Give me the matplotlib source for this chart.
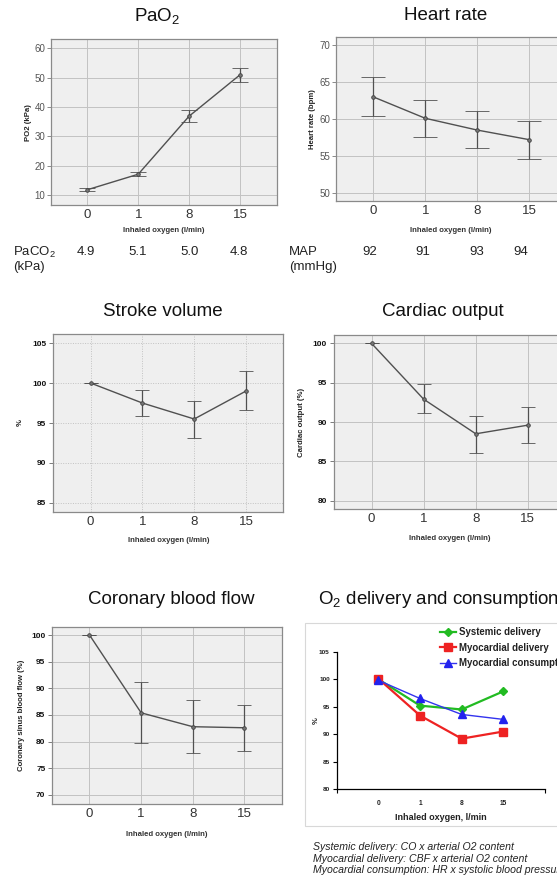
import matplotlib
matplotlib.use('Agg')
import matplotlib.pyplot as plt
from matplotlib.patches import Rectangle
import numpy as np

plt.rcParams['font.family'] = ['Liberation Sans', 'DejaVu Sans']
plt.rcParams['mathtext.fontset'] = 'custom'
plt.rcParams['mathtext.rm'] = 'Liberation Sans'
plt.rcParams['mathtext.it'] = 'Liberation Sans:italic'

W, H, DPI = 557, 877, 100

# ---------------- data ----------------
categories = ['0', '1', '8', '15']

pao2_mean = [11.8, 17.1, 36.9, 51.0]
pao2_hi = [12.3, 17.8, 38.9, 53.4]
pao2_lo = [11.3, 16.4, 35.0, 48.7]
paco2 = [4.9, 5.1, 5.0, 4.8]

hr_mean = [63.0, 60.1, 58.5, 57.2]
hr_hi = [65.7, 62.6, 61.1, 59.7]
hr_lo = [60.4, 57.6, 56.0, 54.6]
map_vals = [92, 91, 93, 94]

sv_mean = [100.0, 97.5, 95.5, 99.0]
sv_hi = [100.0, 99.1, 97.8, 101.5]
sv_lo = [100.0, 95.9, 93.1, 96.6]

co_mean = [100.0, 92.9, 88.5, 89.6]
co_hi = [100.0, 94.8, 90.8, 91.9]
co_lo = [100.0, 91.1, 86.1, 87.3]

cbf_mean = [100.0, 85.4, 82.8, 82.6]
cbf_hi = [100.0, 91.1, 87.8, 86.9]
cbf_lo = [100.0, 79.7, 77.8, 78.3]

sys_delivery = [100.0, 95.2, 94.5, 97.8]
myo_delivery = [100.1, 93.4, 89.2, 90.5]
myo_consumption = [99.8, 96.5, 93.6, 92.7]

footnotes = ['Systemic delivery: CO x arterial O2 content',
             'Myocardial delivery: CBF x arterial O2 content',
             'Myocardial consumption: HR x systolic blood pressure']

# ---------------- figure ----------------
fig = plt.figure(figsize=(W / DPI, H / DPI), dpi=DPI)
fig.patch.set_facecolor('white')


def px_axes(x0, y0, x1, y1):
    return fig.add_axes([x0 / W, 1 - y1 / H, (x1 - x0) / W, (y1 - y0) / H])


def ftext(x, y, s, **kw):
    fig.text(x / W, 1 - y / H, s, **kw)


def panel(box, mean, lo, hi, ylim, yticks, ylabel, capsize, ylab_x, xlab_y,
          grid_ls='-', bold_ticks=False):
    x0, y0, x1, y1 = box
    ax = px_axes(*box)
    ax.set_facecolor('#efefef')
    x = np.arange(len(categories))
    ax.set_xlim(-0.72, 3.72)
    ax.set_ylim(*ylim)
    ax.set_yticks(yticks)
    ax.set_xticks(x)
    ax.set_xticklabels(categories, fontsize=9.5, color='#333333')
    ax.tick_params(axis='x', length=0, pad=3)
    if bold_ticks:
        ax.tick_params(axis='y', length=3, width=0.6, color='#666666', pad=2,
                       labelsize=6, labelcolor='#111111')
        for t in ax.get_yticklabels():
            t.set_fontweight('bold')
    else:
        ax.tick_params(axis='y', length=3, width=0.6, color='#777777', pad=1,
                       labelsize=7, labelcolor='#555555')
    ax.grid(True, color='#c2c2c2', lw=0.7, ls=grid_ls)
    ax.set_axisbelow(True)
    for s in ax.spines.values():
        s.set_color('#8a8a8a')
        s.set_linewidth(0.9)
    m = np.array(mean)
    err = [m - np.array(lo), np.array(hi) - m]
    ax.errorbar(x, m, yerr=err, color='#505050', lw=1.0, capsize=capsize,
                capthick=0.9, elinewidth=0.9, marker='o', ms=2.6,
                mfc='#777777', mec='#404040', mew=0.6, zorder=3)
    ax.set_xlabel('Inhaled oxygen (l/min)', fontsize=5.6, fontweight='bold',
                  color='#333333', va='center')
    ax.xaxis.set_label_coords(((x0 + x1) / 2 - x0) / (x1 - x0),
                              -(xlab_y - y1) / (y1 - y0))
    ax.set_ylabel(ylabel, fontsize=5.6, fontweight='bold', color='#222222',
                  va='center')
    ax.yaxis.set_label_coords((ylab_x - x0) / (x1 - x0), 0.5)
    return ax


# PaO2
panel((50.7, 39.3, 276.7, 205.0), pao2_mean, pao2_lo, pao2_hi,
      (6.6, 63.1), [10, 20, 30, 40, 50, 60], 'PO2 (kPa)', 6, 28, 230)
ftext(157, 16, 'PaO$_\\mathrm{2}$', fontsize=13.5, ha='center', va='center', color='#111111')
ftext(13, 252, 'PaCO$_\\mathrm{2}$', fontsize=9.5, ha='left', va='center', color='#222222')
ftext(13, 267.5, '(kPa)', fontsize=9.5, ha='left', va='center', color='#222222')
for xp, v in zip([86, 138, 190, 239], paco2):
    ftext(xp, 252, f'{v:.1f}', fontsize=9.5, ha='center', va='center', color='#222222')

# Heart rate
panel((336.0, 37.3, 566.3, 200.7), hr_mean, hr_lo, hr_hi,
      (48.9, 71.1), [50, 55, 60, 65, 70], 'Heart rate (bpm)', 8.5, 313, 230)
ftext(445.7, 16, 'Heart rate', fontsize=13.5, ha='center', va='center', color='#111111')
ftext(289, 252, 'MAP', fontsize=9.5, ha='left', va='center', color='#222222')
ftext(289, 267.5, '(mmHg)', fontsize=9.5, ha='left', va='center', color='#222222')
for xp, v in zip([370, 423, 477, 521], map_vals):
    ftext(xp, 252, f'{v}', fontsize=9.5, ha='center', va='center', color='#222222')

# Stroke volume
panel((53.3, 334.3, 283.3, 511.7), sv_mean, sv_lo, sv_hi,
      (83.9, 106.1), [85, 90, 95, 100, 105], '%', 5, 20, 540,
      grid_ls=(0, (1, 1.5)), bold_ticks=True)
ftext(163, 312, 'Stroke volume', fontsize=13.5, ha='center', va='center', color='#111111')

# Cardiac output
panel((334.0, 335.0, 565.4, 509.0), co_mean, co_lo, co_hi,
      (78.94, 101.06), [80, 85, 90, 95, 100], 'Cardiac output (%)', 5.3, 301.7, 538.3,
      bold_ticks=True)
ftext(443, 312, 'Cardiac output', fontsize=13.5, ha='center', va='center', color='#111111')

# Coronary blood flow
panel((52.3, 626.7, 281.7, 804.0), cbf_mean, cbf_lo, cbf_hi,
      (68.3, 101.56), [70, 75, 80, 85, 90, 95, 100], 'Coronary sinus blood flow (%)',
      5, 21.7, 835, bold_ticks=True)
ftext(171.7, 600, 'Coronary blood flow', fontsize=13.5, ha='center', va='center', color='#111111')

# O2 delivery and consumption
fig.patches.append(Rectangle((305 / W, 1 - 826 / H), (600 - 305) / W, (826 - 623.3) / H,
                             transform=fig.transFigure, facecolor='white',
                             edgecolor='#d8d8d8', lw=0.8, zorder=-5))
ftext(318, 600, 'O$_\\mathrm{2}$ delivery and consumption', fontsize=13.5,
      ha='left', va='center', color='#111111')
ax6 = px_axes(336.7, 651.7, 545.0, 789.3)
ax6.set_zorder(2)
ax6.patch.set_alpha(0)
x = np.arange(len(categories))
ax6.set_xlim(-1, 4)
ax6.set_ylim(80, 105)
ax6.spines['top'].set_visible(False)
ax6.spines['right'].set_visible(False)
for s in ('left', 'bottom'):
    ax6.spines[s].set_color('black')
    ax6.spines[s].set_linewidth(0.9)
ax6.set_yticks([80, 85, 90, 95, 100, 105])
ax6.set_xticks(x)
ax6.set_xticklabels(categories)
ax6.set_xticks([-1, 4], minor=True)
ax6.tick_params(axis='x', which='major', length=0, pad=8, labelsize=4.8)
ax6.tick_params(axis='x', which='minor', length=3, width=0.8, direction='out')
ax6.tick_params(axis='y', length=3, width=0.8, pad=2, labelsize=4.6)
for t in ax6.get_xticklabels() + ax6.get_yticklabels():
    t.set_fontweight('bold')
    t.set_color('#222222')
l1, = ax6.plot(x, sys_delivery, color='#22bb22', lw=1.6, marker='D', ms=4.0,
               mec='#22bb22', label='Systemic delivery', zorder=3)
l2, = ax6.plot(x, myo_delivery, color='#ee2222', lw=1.6, marker='s', ms=5.8,
               mec='#ee2222', label='Myocardial delivery', zorder=3)
l3, = ax6.plot(x, myo_consumption, color='#3333ee', lw=1.0, marker='^', ms=5.6,
               mec='#2222ee', mfc='#2222ee', label='Myocardial consumption', zorder=4)
ax6.set_xlabel('Inhaled oxygen, l/min', fontsize=6.5, fontweight='bold',
               color='#222222', va='center')
ax6.xaxis.set_label_coords(0.5, -(817.3 - 789.3) / (789.3 - 651.7))
ax6.set_ylabel('%', fontsize=5.5, fontweight='bold', color='#222222', va='center')
ax6.yaxis.set_label_coords((316.7 - 336.7) / (545.0 - 336.7), 0.5)
leg = ax6.legend(handles=[l1, l2, l3], loc='upper left',
                 bbox_to_anchor=(440 / W, 1 - 627 / H), bbox_transform=fig.transFigure,
                 frameon=False, handlelength=1.7, handletextpad=0.3,
                 labelspacing=0.6, borderaxespad=0, borderpad=0,
                 prop={'size': 6.9, 'weight': 'bold'})
for t in leg.get_texts():
    t.set_color('#222222')

for i, line in enumerate(footnotes):
    ftext(313, 846.7 + 11.8 * i, line, fontsize=7.6, style='italic',
          ha='left', va='center', color='#222222')

fig.savefig('out.png', dpi=DPI)
